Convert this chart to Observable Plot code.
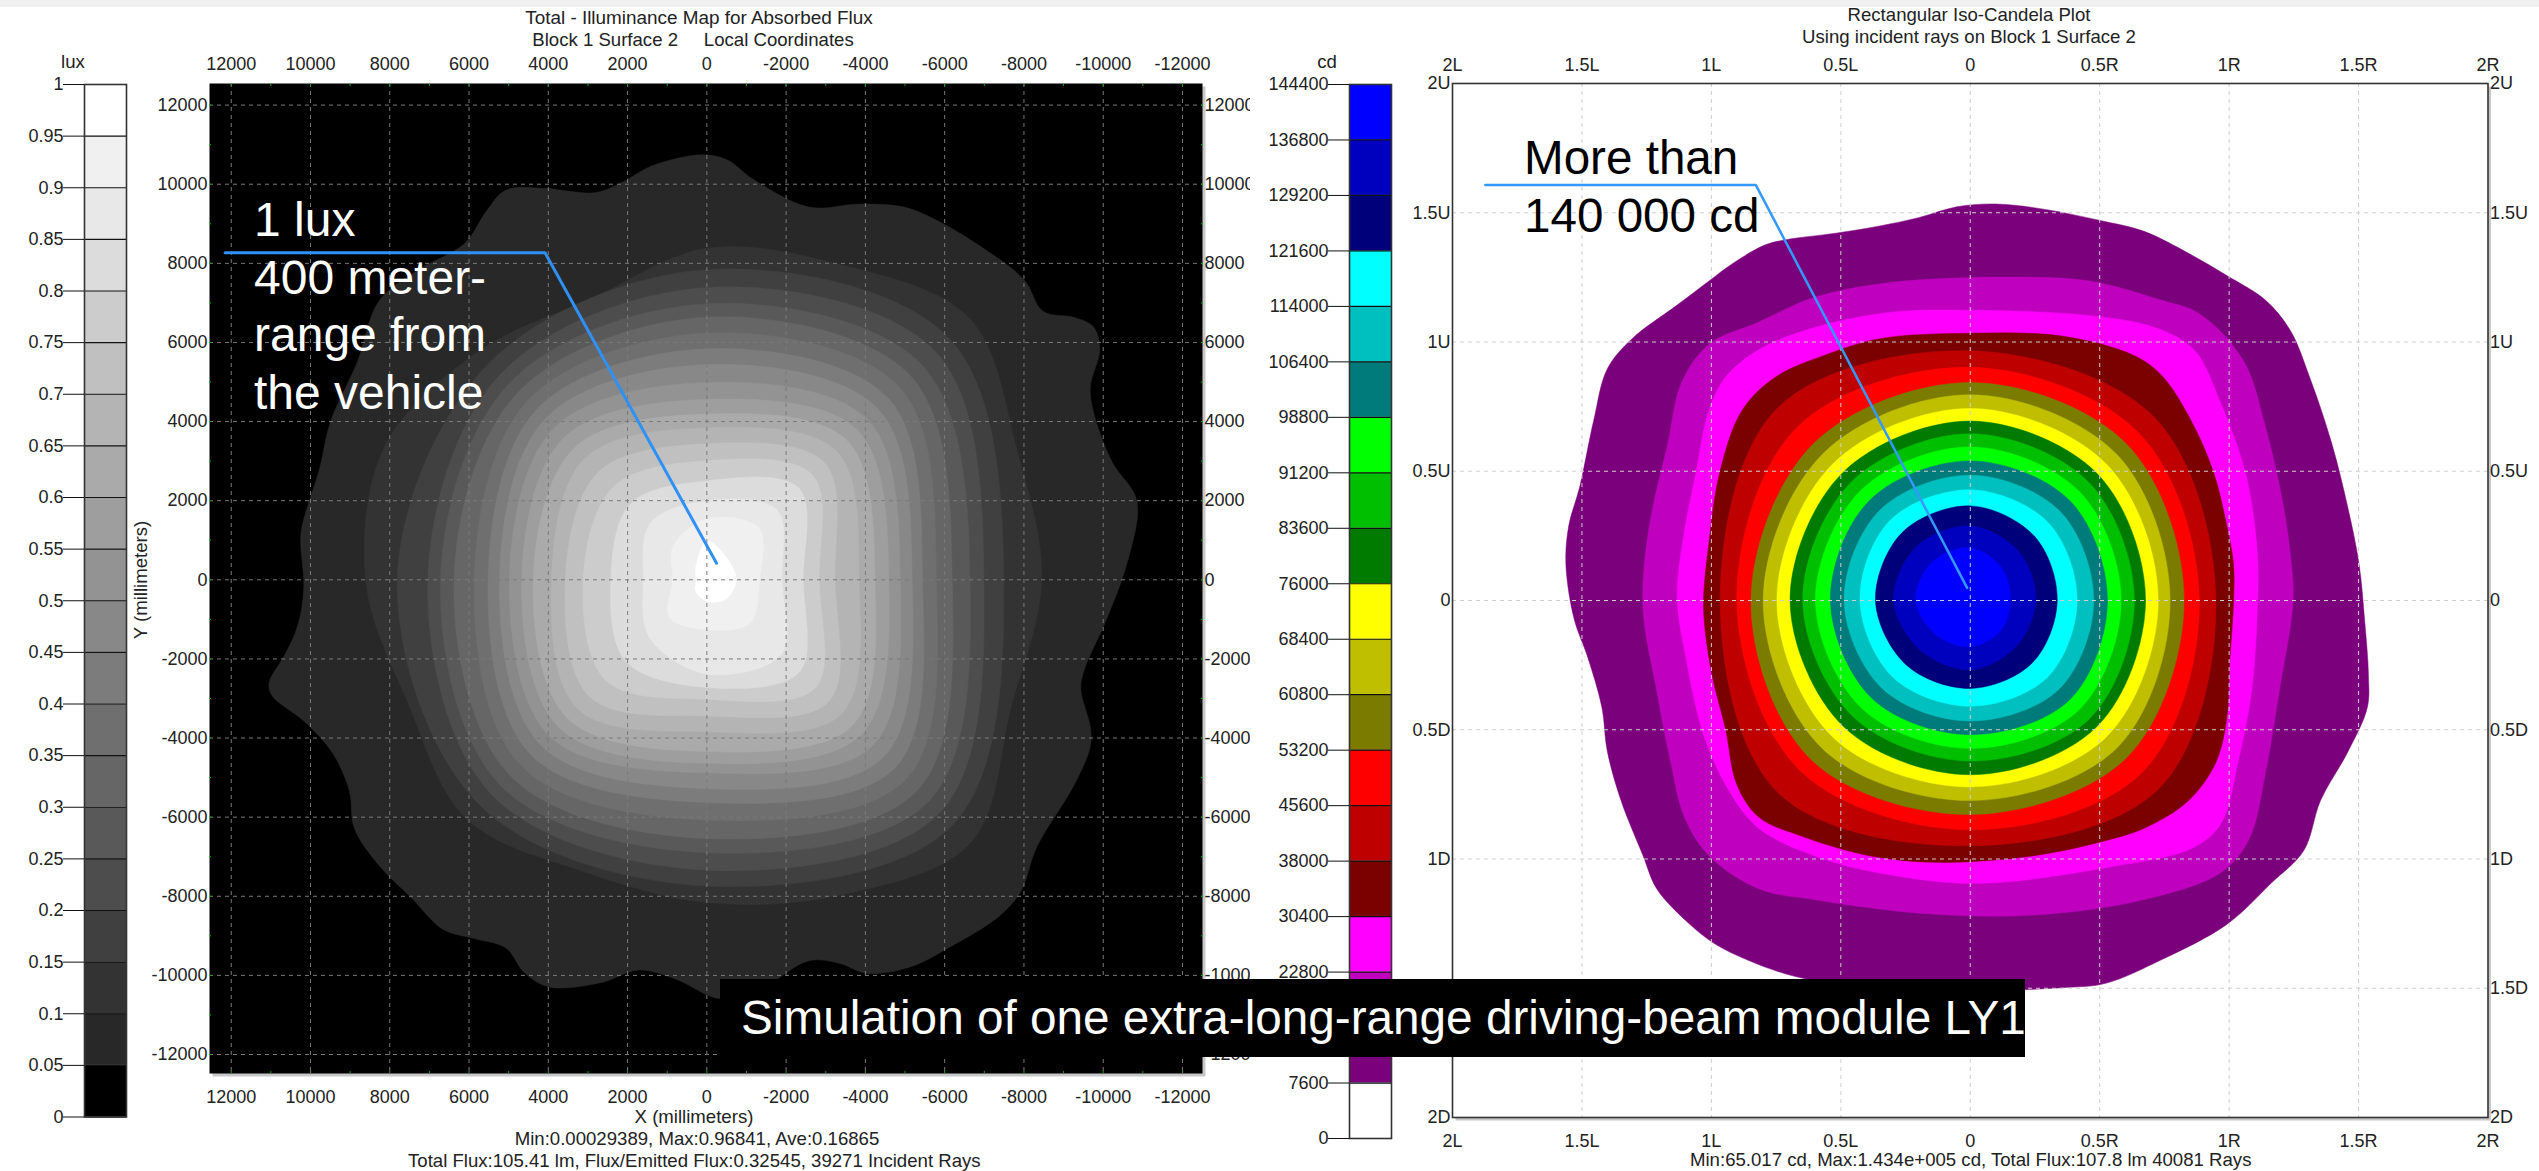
<!DOCTYPE html>
<html><head><meta charset="utf-8">
<script src="https://cdn.jsdelivr.net/npm/d3@7"></script>
<script src="https://cdn.jsdelivr.net/npm/@observablehq/plot@0.6"></script>
<style>
html,body{margin:0;padding:0;background:#fff;overflow:hidden}
#root{position:relative;width:2539px;height:1171px;overflow:hidden;font-family:"Liberation Sans",Arial,sans-serif;color:#222}
#root svg{position:absolute;left:0;top:0;background:transparent}
.t{position:absolute;white-space:pre;font-size:18.6px;line-height:22px}
.c{transform:translateX(-50%)}
.big{position:absolute;white-space:nowrap;font-size:47.6px;line-height:57.7px}
#strip{position:absolute;left:0;top:0;width:100%;height:7px;background:#f0f0f0}
#banner{position:absolute;left:720px;top:979px;width:1305px;height:78px;background:#000;color:#fff;font-size:47.7px;line-height:78px;white-space:nowrap;padding-left:21px;box-sizing:border-box}
</style></head><body><div id="root"><div id="strip"></div></div>
<script>
// ---------- legends ----------
const luxTicks=[0,0.05,0.1,0.15,0.2,0.25,0.3,0.35,0.4,0.45,0.5,0.55,0.6,0.65,0.7,0.75,0.8,0.85,0.9,0.95,1];
const luxColors=["#000000","#282828","#333333","#404040","#4d4d4d","#595959","#666666","#6f6f6f","#7c7c7c","#888888","#939393","#9e9e9e","#aaaaaa","#b4b4b4","#c0c0c0","#cccccc","#dcdcdc","#e8e8e8","#f0f0f0","#ffffff"];
const cdTicks=[0,7600,15200,22800,30400,38000,45600,53200,60800,68400,76000,83600,91200,98800,106400,114000,121600,129200,136800,144400];
const cdColors=["#ffffff","#7b007b","#bf00bf","#ff00ff","#7b0000","#bf0000","#ff0000","#7b7b00","#bfbf00","#ffff00","#007b00","#00bf00","#00ff00","#007b7b","#00bfbf","#00ffff","#00007b","#0000bf","#0000ff"];

// ---------- illuminance map (millimetres) ----------
const mapTicks=[12000,10000,8000,6000,4000,2000,0,-2000,-4000,-6000,-8000,-10000,-12000];
// boundary of the 0.05 lux level: x, y in mm
const luxOuterX=[128,1403,2120,2837,4113,5069,5547,6121,7301,8273,8815,9500,9771,10170,10250,10170,10329,10648,11046,10967,10170,9452,9022,8894,8257,7460,6663,5866,5069,4591,3953,2678,1722,765,-32,-351,-1466,-2582,-3379,-4017,-5133,-6089,-7364,-7922,-8321,-9277,-9676,-9676,-9436,-9516,-10074,-10552,-10871,-10791,-10233,-9755,-9676,-9915,-9755,-9277,-8480,-8002,-6727,-5770,-4973,-3857,-2582,-1148,-510];
const luxOuterY=[10743,10457,10058,9787,9899,9851,9341,8496,7827,7046,5515,3985,2805,1530,1052,-223,-1180,-1897,-2614,-2933,-3571,-4368,-5324,-6280,-7237,-8034,-8831,-9070,-9309,-9947,-10297,-10186,-9867,-10106,-10504,-10584,-10265,-9628,-9707,-9947,-9787,-9309,-8512,-7874,-6759,-5165,-4208,-3730,-2774,-2295,-1020,255,1690,2168,2965,4240,4878,5834,6392,6631,6790,7587,8544,9102,9421,9500,9421,10138,10616];
// inner levels: radius in mm, evenly spaced directions clockwise from straight up on the page
const lux010=[8380,8640,9360,8480,8450,8320,9410,8640,8160,8000,8560,8160,8610,8800,8160,7680];
const lux015=[7840,8640,7490,8770,7740,8080,7810,7760];
const lux020=[7390,8160,6990,8320,7340,7680,7040,7360];
const lux025=[6980,7680,6640,7920,6900,7360,6720,7040];
const lux030=[6640,7280,6190,7520,6540,7010,6380,6720];
const lux035=[6240,6880,5790,7120,6080,6640,5870,6400];
const lux040=[5840,6480,5440,6720,5630,6270,5520,6080];
const lux045=[5440,6110,5180,6320,5280,5920,5230,5760];
const lux050=[4990,5730,4880,5920,4880,5600,4980,5440];
const lux055=[4560,5360,4590,5520,4640,5280,4670,5090];
const lux060=[4190,4990,4240,5200,4340,4960,4380,4720];
const lux065=[3840,4610,3840,4800,3840,4610,3920,4350];
const lux070=[3440,4190,3230,4350,3440,4180,3570,3860];
const lux075=[3010,3760,2830,3870,3020,3600,3120,3330];
const lux080=[2500,3280,2430,3300,2720,2900,2420,2720];
const lux085=[2000,2500,1890,2660,2380,2050,1600,2020];
const lux090=[1540,1860,1330,1540,1260,1340,860,1200];
const lux095=[980,740,740,690,540,400,270,400];
const luxRings=[lux010,lux015,lux020,lux025,lux030,lux035,lux040,lux045,lux050,lux055,lux060,lux065,lux070,lux075,lux080,lux085,lux090,lux095];

// ---------- iso-candela plot (angle units, L negative) ----------
const beamTicks=[-2,-1.5,-1,-0.5,0,0.5,1,1.5,2];
const beamXLabels=["2L","1.5L","1L","0.5L","0","0.5R","1R","1.5R","2R"];
const beamYLabels=["2D","1.5D","1D","0.5D","0","0.5U","1U","1.5U","2U"];
const cdOuterX=[.098,-.051,-.2,-.349,-.519,-.711,-.796,-.923,-1.009,-1.136,-1.306,-1.402,-1.455,-1.509,-1.551,-1.562,-1.53,-1.477,-1.423,-1.402,-1.349,-1.264,-1.211,-1.094,-.987,-.86,-.711,-.562,-.349,.034,.353,.523,.736,.991,1.162,1.289,1.353,1.46,1.534,1.538,1.523,1.502,1.46,1.396,1.311,1.236,1.14,.991,.843,.672,.502,.289];
const cdOuterY=[1.534,1.523,1.481,1.449,1.421,1.396,1.374,1.3,1.236,1.14,1.013,.896,.694,.438,.289,.14,-.072,-.221,-.413,-.583,-.774,-.987,-1.115,-1.243,-1.328,-1.391,-1.445,-1.477,-1.498,-1.509,-1.498,-1.481,-1.391,-1.253,-1.094,-.966,-.774,-.583,-.413,-.285,-.072,.14,.353,.609,.864,1.045,1.162,1.257,1.343,1.428,1.47,1.513];
const cd15200X=[.162,.460,.736,.885,1.055,1.140,1.204,1.236,1.247,1.194,1.140,1.077,.970,.672,.247,-.179,-.604,-.817,-1.009,-1.104,-1.157,-1.211,-1.264,-1.243,-1.168,-1.115,-1.009,-.817,-.604,-.306];
const cd15200Y=[1.251,1.236,1.162,1.109,.928,.672,.396,.183,0,-.349,-.668,-.923,-1.051,-1.157,-1.217,-1.211,-1.157,-1.115,-.987,-.838,-.626,-.349,-.030,.268,.609,.843,.991,1.077,1.172,1.230];
const cd22800X=[0,.460,.715,.864,.970,1.066,1.109,1.109,1.087,1.034,.970,.864,.545,.034,-.306,-.604,-.817,-.934,-1.030,-1.094,-1.132,-1.104,-1.062,-1.009,-.945,-.817,-.604,-.306];
const cd22800Y=[1.123,1.102,1.055,.970,.757,.481,.183,-.030,-.349,-.626,-.860,-.955,-1.030,-1.094,-1.062,-.987,-.881,-.732,-.519,-.243,.013,.268,.481,.736,.864,.970,1.055,1.115];
const cd30400X=[0,.353,.630,.736,.843,.938,.991,1.017,1.017,1.002,.991,.949,.843,.672,.502,.247,-.115,-.391,-.647,-.817,-.902,-.945,-.998,-1.030,-1.009,-.966,-.881,-.753,-.562,-.349];
const cd30400Y=[1.034,1.023,.949,.874,.715,.502,.289,.140,-.009,-.243,-.455,-.626,-.774,-.881,-.934,-.987,-1.013,-.987,-.913,-.838,-.711,-.498,-.285,-.030,.226,.502,.736,.864,.949,1.013];
// inner levels: radius, eight directions clockwise from straight up
const cd38000=[.966,1.004,.949,1.030,.949,1.051,.966,1.053];
const cd45600=[.902,.919,.885,.940,.887,.930,.902,.947];
const cd53200=[.843,.855,.826,.857,.828,.870,.847,.857];
const cd60800=[.796,.800,.772,.804,.774,.809,.800,.804];
const cd68400=[.743,.745,.726,.745,.721,.749,.747,.749];
const cd76000=[.694,.694,.677,.691,.674,.691,.696,.698];
const cd83600=[.645,.647,.634,.649,.621,.638,.647,.649];
const cd91200=[.594,.596,.583,.596,.572,.591,.598,.600];
const cd98800=[.540,.545,.530,.543,.519,.536,.540,.549];
const cd106400=[.485,.489,.477,.485,.466,.481,.487,.494];
const cd114000=[.428,.426,.413,.421,.409,.421,.426,.438];
const cd121600=[.366,.351,.336,.340,.340,.351,.366,.372];
const cd129200=[.289,.266,.253,.251,.268,.272,.296,.294];
const cd136800=[.204,.174,.155,.166,.179,.187,.211,.209];
const cdRings=[cd38000,cd45600,cd53200,cd60800,cd68400,cd76000,cd83600,cd91200,cd98800,cd106400,cd114000,cd121600,cd129200,cd136800];

// ---------- leader lines ----------
const leaderLuxX=[12155,4083,-245], leaderLuxY=[8268,8268,420];
const leaderCdX=[-1.873,-0.828,-0.012], leaderCdY=[1.607,1.607,0.049];

// ---------- helpers ----------
const W=2539,H=1171,FONT='"Liberation Sans",Arial,sans-serif',FS=18;
const root=document.getElementById("root");
const pairs=(xs,ys)=>xs.map((x,i)=>({x,y:ys[i]}));
// sx=-1 where page-right is negative x (reversed mm axis)
const ring=(rs,sx)=>rs.map((r,i)=>{const a=2*Math.PI*i/rs.length;return {x:sx*r*Math.sin(a),y:r*Math.cos(a)};});
const blob=(pts,color)=>Plot.line(pts,{x:"x",y:"y",curve:"catmull-rom-closed",fill:color,stroke:color,strokeWidth:0.5});
const bands=(ticks,colors)=>colors.map((color,i)=>({lo:ticks[i],hi:ticks[i+1],color}));
const base=(o)=>Plot.plot({width:W,height:H,style:{fontFamily:FONT,fontSize:FS+"px",background:"transparent",overflow:"visible"},...o});

function legend(ticks,colors,left,right,top,bottom){
  return base({marginLeft:left,marginRight:W-right,marginTop:top,marginBottom:H-bottom,
    x:{domain:[0,1],axis:null},y:{domain:[ticks[0],ticks[ticks.length-1]],axis:null},
    marks:[
      Plot.rect(bands(ticks,colors),{x1:()=>0,x2:()=>1,y1:"lo",y2:"hi",fill:"color"}),
      Plot.gridY({ticks,stroke:"#111",strokeOpacity:1,strokeWidth:1.2}),
      Plot.frame({stroke:"#333",strokeWidth:1.6}),
      Plot.axisY({ticks,anchor:"left",label:null,tickSize:21,tickPadding:0,tickFormat:d=>String(d),fontSize:FS,stroke:"#111",fill:"#222"})
    ]});
}

// left legend
root.append(legend(luxTicks,luxColors,84,126,84,1116.5));

// illuminance map
const every1000=d3.range(-12000,12001,1000);
root.append(base({marginLeft:209,marginRight:W-1202,marginTop:83,marginBottom:H-1073,
  x:{domain:[12548,-12505],axis:null},y:{domain:[-12480,12546],axis:null},
  style:{fontFamily:FONT,fontSize:FS+"px",background:"transparent",clipPath:"inset(0 1289px 0 0)"},
  marks:[
    Plot.frame({fill:"#c8c8c8",dx:3,dy:3}),
    Plot.frame({fill:"#000"}),
    blob(pairs(luxOuterX,luxOuterY),luxColors[1]),
    ...luxRings.map((r,i)=>blob(ring(r,-1),luxColors[i+2])),
    Plot.gridX({ticks:mapTicks,stroke:"#7a7a7a",strokeOpacity:1,strokeDasharray:"4,4"}),
    Plot.gridY({ticks:mapTicks,stroke:"#7a7a7a",strokeOpacity:1,strokeDasharray:"4,4"}),
    Plot.axisX({anchor:"top",ticks:every1000,tickSize:-2,text:null,stroke:"#00b000",label:null}),
    Plot.axisX({anchor:"bottom",ticks:every1000,tickSize:-2,text:null,stroke:"#00b000",label:null}),
    Plot.axisY({anchor:"left",ticks:every1000,tickSize:-2,text:null,stroke:"#00b000",label:null}),
    Plot.axisY({anchor:"right",ticks:every1000,tickSize:-2,text:null,stroke:"#00b000",label:null}),
    Plot.axisX({anchor:"top",ticks:mapTicks,tickSize:0,tickPadding:14,label:null,tickFormat:String,fontSize:FS,fill:"#222"}),
    Plot.axisX({anchor:"bottom",ticks:mapTicks,tickSize:0,tickPadding:17,label:null,tickFormat:String,fontSize:FS,fill:"#222"}),
    Plot.axisY({anchor:"left",ticks:mapTicks,tickSize:0,tickPadding:2,label:null,tickFormat:String,fontSize:FS,fill:"#222"}),
    Plot.axisY({anchor:"right",ticks:mapTicks,tickSize:0,tickPadding:2,label:null,tickFormat:String,fontSize:FS,fill:"#222"}),
    Plot.line(pairs(leaderLuxX,leaderLuxY),{x:"x",y:"y",stroke:"#2f90f5",strokeWidth:3})
  ]}));

// right legend
root.append(legend(cdTicks,cdColors,1349,1391,84,1138));

// iso-candela plot
const bx=new Map(beamTicks.map((t,i)=>[t,beamXLabels[i]]));
const by=new Map(beamTicks.map((t,i)=>[t,beamYLabels[i]]));
root.append(base({marginLeft:1452,marginRight:W-2487.5,marginTop:83,marginBottom:H-1117,
  x:{domain:[-2,2],axis:null},y:{domain:[-2,2],axis:null},
  marks:[
    Plot.frame({fill:"#c8c8c8",dx:3,dy:3}),
    Plot.frame({fill:"#fff"}),
    blob(pairs(cdOuterX,cdOuterY),cdColors[1]),
    blob(pairs(cd15200X,cd15200Y),cdColors[2]),
    blob(pairs(cd22800X,cd22800Y),cdColors[3]),
    blob(pairs(cd30400X,cd30400Y),cdColors[4]),
    ...cdRings.map((r,i)=>blob(ring(r,1),cdColors[i+5])),
    Plot.gridX({ticks:beamTicks.slice(1,-1),stroke:"#cfcfcf",strokeOpacity:1,strokeDasharray:"4,4"}),
    Plot.gridY({ticks:beamTicks.slice(1,-1),stroke:"#cfcfcf",strokeOpacity:1,strokeDasharray:"4,4"}),
    Plot.frame({stroke:"#333",strokeWidth:1.6}),
    Plot.axisX({anchor:"top",ticks:beamTicks,tickSize:0,tickPadding:13,label:null,tickFormat:d=>bx.get(d),fontSize:FS,fill:"#222"}),
    Plot.axisX({anchor:"bottom",ticks:beamTicks,tickSize:0,tickPadding:17,label:null,tickFormat:d=>bx.get(d),fontSize:FS,fill:"#222"}),
    Plot.axisY({anchor:"left",ticks:beamTicks,tickSize:0,tickPadding:2,label:null,tickFormat:d=>by.get(d),fontSize:FS,fill:"#222"}),
    Plot.axisY({anchor:"right",ticks:beamTicks,tickSize:0,tickPadding:2,label:null,tickFormat:d=>by.get(d),fontSize:FS,fill:"#222"}),
    Plot.line(pairs(leaderCdX,leaderCdY),{x:"x",y:"y",stroke:"#3399ff",strokeWidth:2.5})
  ]}));

// ---------- texts ----------
function addText(str,left,top,cls="t c",rot){
  const d=document.createElement("div");d.className=cls;d.textContent=str;
  d.style.left=left+"px";d.style.top=top+"px";
  if(rot)d.style.transform=rot;
  root.append(d);return d;
}
addText("Total - Illuminance Map for Absorbed Flux",699,7).style.fontSize="18.9px";
addText("Block 1 Surface 2     Local Coordinates",693,29);
addText("lux",73,51);
addText("cd",1327,51);
addText("Rectangular Iso-Candela Plot",1969,4);
addText("Using incident rays on Block 1 Surface 2",1969,26);
addText("X (millimeters)",694,1106);
addText("Min:0.00029389, Max:0.96841, Ave:0.16865",697,1128);
addText("Total Flux:105.41 lm, Flux/Emitted Flux:0.32545, 39271 Incident Rays",408,1150,"t");
addText("Min:65.017 cd, Max:1.434e+005 cd, Total Flux:107.8 lm 40081 Rays",1690,1149,"t");
addText("Y (millimeters)",141,580,"t","translate(-50%,-50%) rotate(-90deg)");

const luxNote=addText("",254,191,"big");luxNote.style.color="#fff";luxNote.style.fontSize="48px";
luxNote.innerHTML="1 lux<br>400 meter-<br>range from<br>the vehicle";
const cdNote=addText("",1524,129,"big");cdNote.style.color="#000";
cdNote.innerHTML="More than<br>140 000 cd";

const banner=document.createElement("div");banner.id="banner";
banner.textContent="Simulation of one extra-long-range driving-beam module LY1";
root.append(banner);
</script></body></html>
